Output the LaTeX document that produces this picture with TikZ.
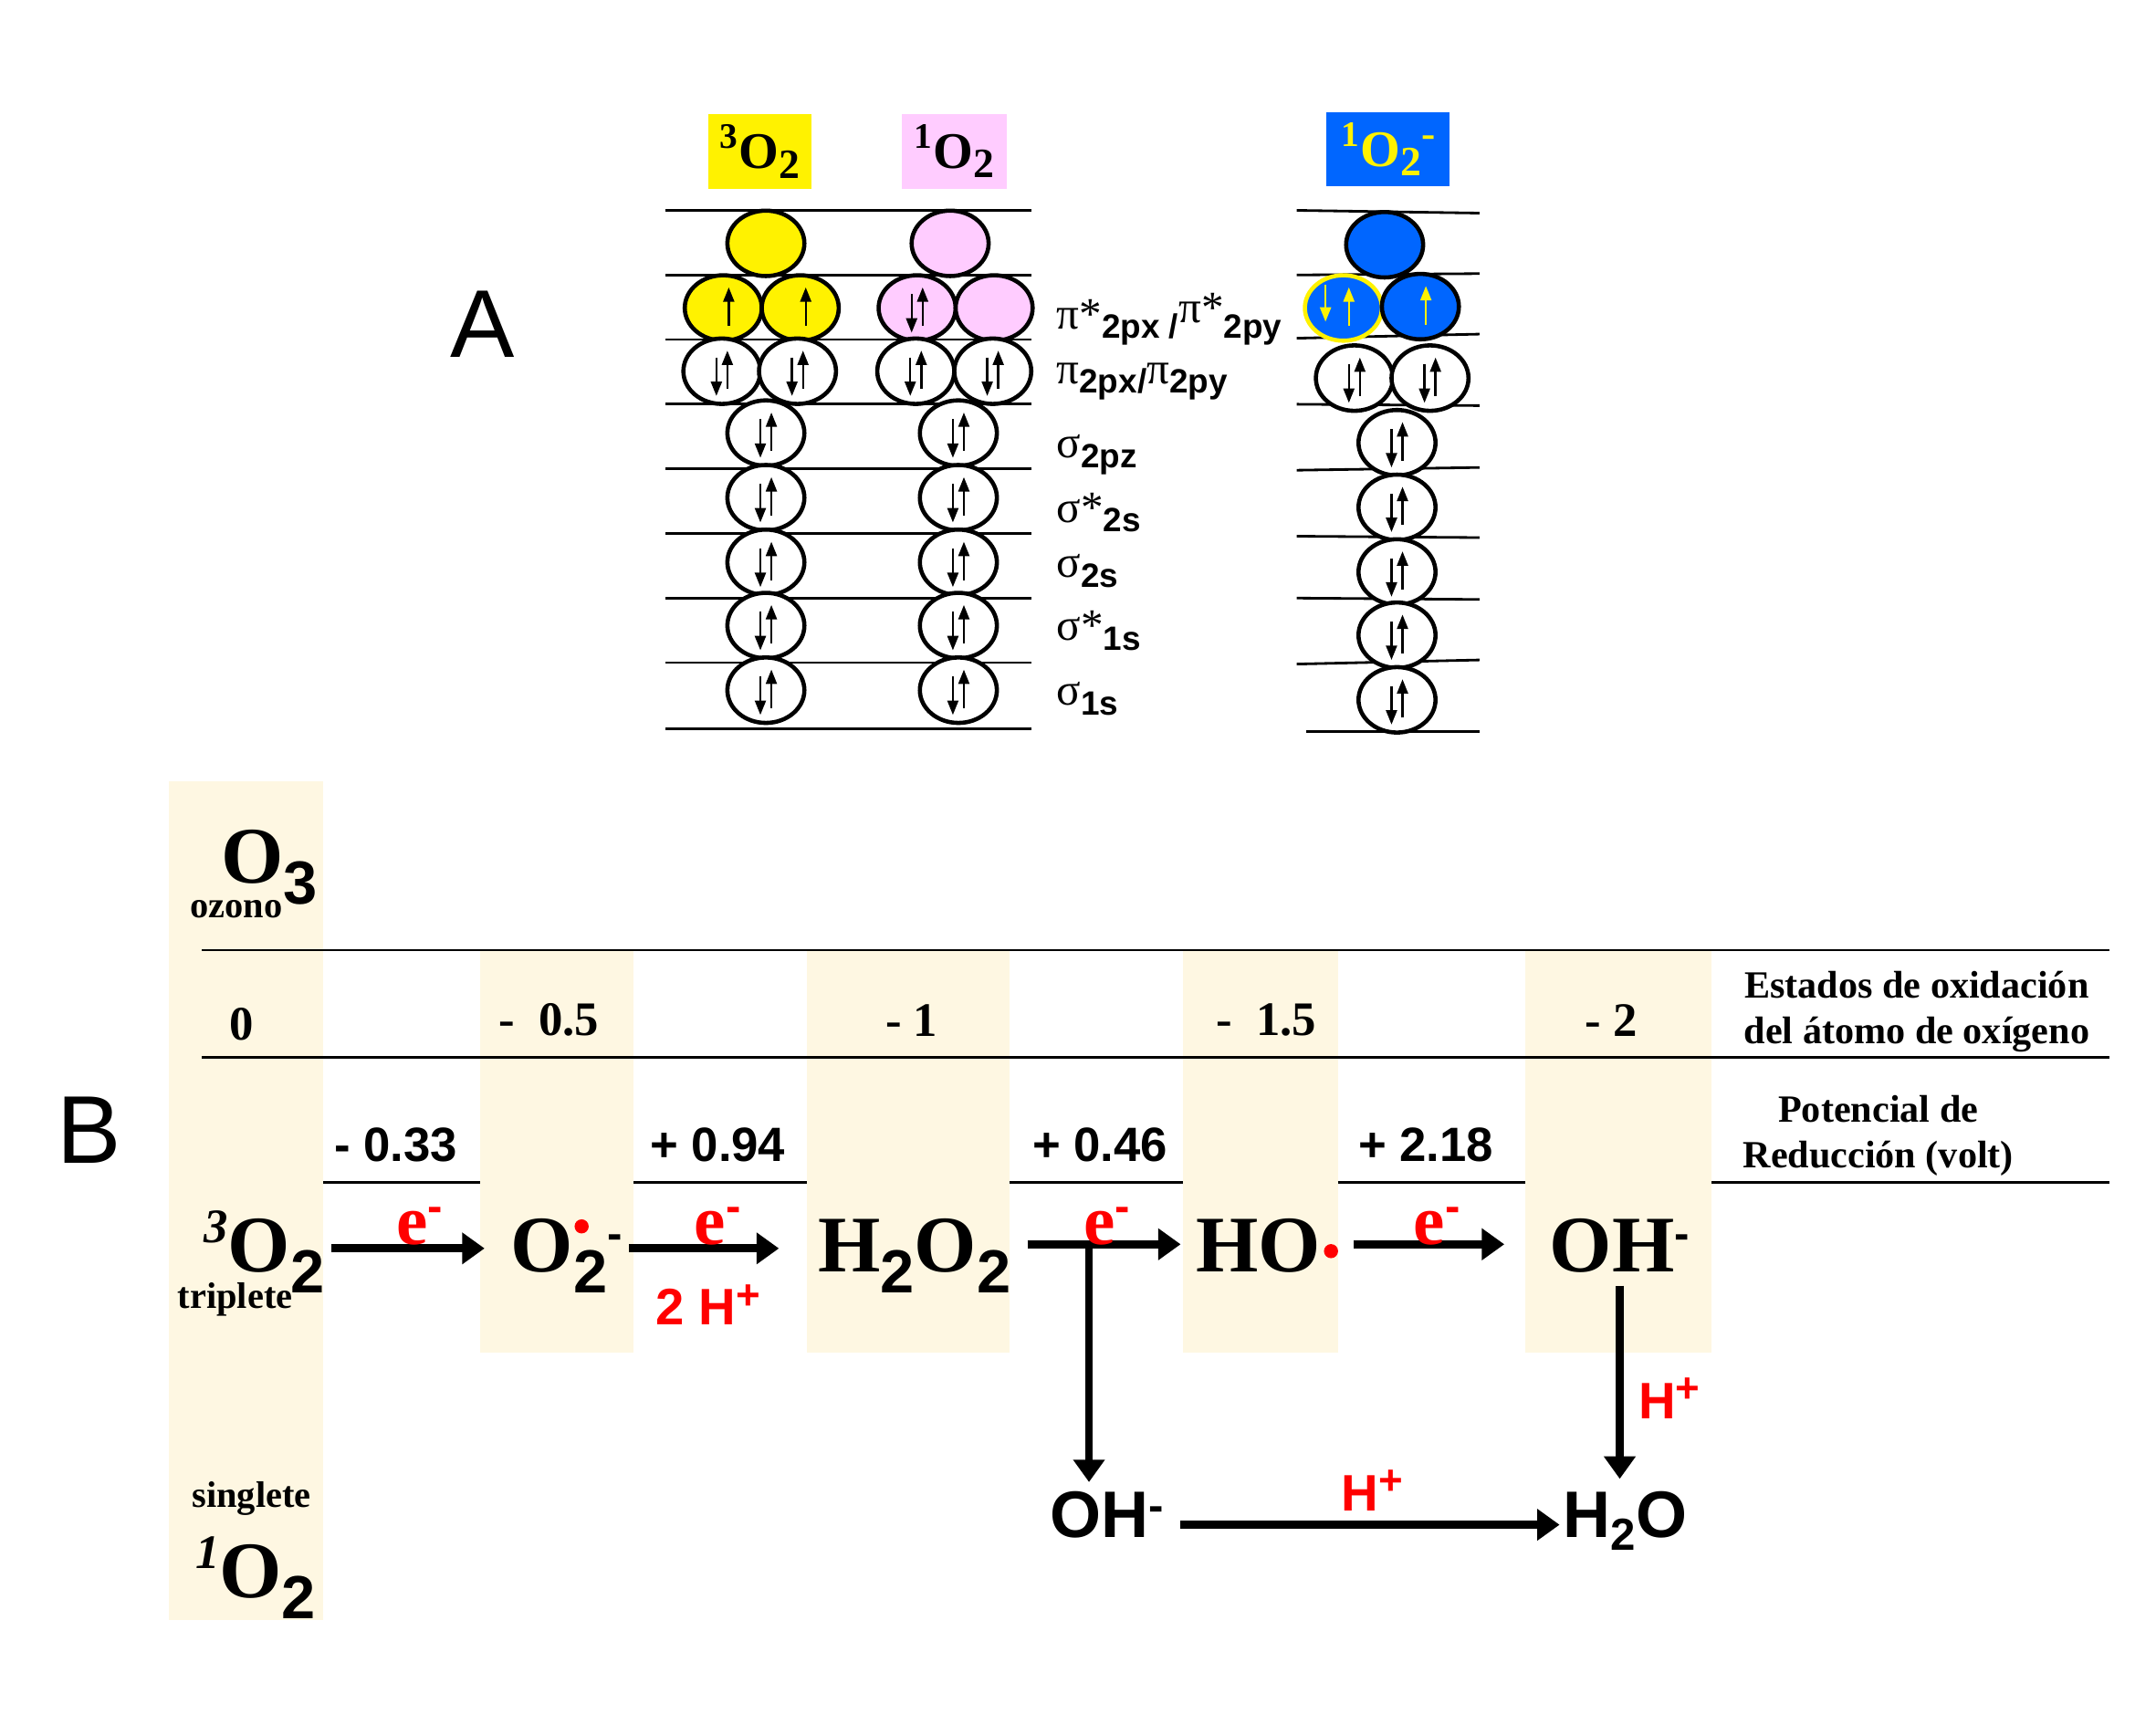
\documentclass[tikz,border=0pt]{standalone}
\usepackage{fontspec}
\setmainfont{Liberation Serif}
\newfontfamily\arial{Liberation Sans}
\usetikzlibrary{shapes.geometric}
\usetikzlibrary{positioning}
\usetikzlibrary{arrows.meta}
\definecolor{crema}{RGB}{254,247,226}
\definecolor{rosa}{RGB}{255,204,255}
\definecolor{azul}{RGB}{0,102,255}
\definecolor{rojo}{RGB}{255,0,0}
\tikzset{
    orbw/.style = {ellipse, line width=1.3pt, draw=black, fill=white, inner sep=0pt, minimum width=24pt, minimum height=20.4pt},
    orby/.style = {orbw, fill=yellow},
    orbr/.style = {orbw, fill=rosa},
    orbb/.style = {orbw, fill=azul},
    orbby/.style = {orbw, fill=azul, draw=yellow},
    spin/.style = {line width=0.7pt, -{Triangle[length=4.5pt,width=3.4pt]}},
    nivel/.style = {line width=0.8pt, black},
    regla/.style = {line width=0.8pt, black},
    banda/.style = {crema},
    cabeza/.style = {inner sep=0pt, font=\bfseries\fontsize{16}{16}\selectfont},
    etq/.style = {inner sep=0pt, anchor=base west, font=\fontsize{14}{14}\selectfont},
    flecha/.style = {line width=2.5pt, -{Triangle[length=7pt,width=9.5pt]}},
    especie/.style = {inner sep=0pt, text height=20pt, text depth=5.4pt, font=\bfseries\fontsize{25}{25}\selectfont},
    especieb/.style = {especie, text depth=2.8pt},
    especies/.style = {inner sep=0pt, text height=14pt, text depth=6.2pt, font=\arial\bfseries\fontsize{20.5}{20.5}\selectfont},
    estado/.style = {inner sep=0pt, font=\bfseries\fontsize{15}{15}\selectfont},
    texto/.style = {inner sep=0pt, align=center, font=\bfseries\fontsize{12}{14.2}\selectfont},
    peque/.style = {inner sep=0pt, font=\bfseries\fontsize{11.5}{11.5}\selectfont},
    pot/.style = {inner sep=0pt, font=\arial\bfseries\fontsize{15}{15}\selectfont},
    rojoe/.style = {inner sep=0pt, text=rojo, font=\bfseries\fontsize{22}{22}\selectfont},
    rojoh/.style = {inner sep=0pt, text=rojo, font=\arial\bfseries\fontsize{16}{16}\selectfont},
    punto/.style = {circle, fill=rojo, inner sep=0pt, minimum size=4.4pt},
    letra/.style = {inner sep=0pt, font=\arial\fontsize{30}{30}\selectfont}
}
\newcommand{\SB}[1]{\raisebox{-3pt}{\arial\bfseries\fontsize{10.5}{10.5}\selectfont #1}}
\newcommand{\BG}[1]{\raisebox{-6.5pt}{\arial\bfseries\fontsize{19}{19}\selectfont #1}}
\newcommand{\SP}[1]{\raisebox{7pt}{\arial\bfseries\fontsize{14}{14}\selectfont #1}}
\newcommand{\Ub}[2][black]{\draw[spin,#1] ([shift={(4,13)}]#2.center) -- ([shift={(4,-15)}]#2.center);}
\newcommand{\Db}[2][black]{\draw[spin,#1] ([shift={(-4,-10)}]#2.center) -- ([shift={(-4,18)}]#2.center);}
\newcommand{\UD}[2][black]{\Ub[#1]{#2}\Db[#1]{#2}}
\begin{document}
\begin{tikzpicture}[x=0.4286pt,y=-0.4286pt]
\useasboundingbox (0,0) rectangle (1568,1254.6);
% letras
\node[letra] (A) at (351,236) {A};
\node[letra] (B) at (65,822) {B};
% cabeceras
\node[cabeza,fill=yellow,minimum width=32.3pt,minimum height=23.3pt] (h1) at (552.5,110) {\textsuperscript{3}O\raisebox{-3pt}{\fontsize{13}{13}\selectfont 2}};
\node[cabeza,fill=rosa,minimum width=32.7pt,minimum height=23.3pt] (h2) at (694,110) {\textsuperscript{1}O\raisebox{-3pt}{\fontsize{13}{13}\selectfont 2}};
\node[cabeza,fill=azul,text=yellow,minimum width=38.3pt,minimum height=22.8pt] (h3) at (1009.5,108.5) {\textsuperscript{1}O\raisebox{-3pt}{\fontsize{13}{13}\selectfont 2}\raisebox{6pt}{\fontsize{13}{13}\selectfont -}};
% niveles
\draw[nivel] (484,153) -- (750,153);
\draw[nivel] (484,200) -- (750,200);
\draw[nivel] (484,247) -- (750,247);
\draw[nivel] (484,294) -- (750,294);
\draw[nivel] (484,341) -- (750,341);
\draw[nivel] (484,388) -- (750,388);
\draw[nivel] (484,435) -- (750,435);
\draw[nivel] (484,482) -- (750,482);
\draw[nivel] (484,530) -- (750,530);
\draw[nivel] (943,153) -- (1076,155);
\draw[nivel] (943,200) -- (1076,199);
\draw[nivel] (943,246) -- (1076,243);
\draw[nivel] (943,294) -- (1076,295);
\draw[nivel] (943,342) -- (1076,340);
\draw[nivel] (943,390) -- (1076,391);
\draw[nivel] (943,435) -- (1076,436);
\draw[nivel] (943,483) -- (1076,480);
\draw[nivel] (950,532) -- (1076,532);
% triplete
\node[orby] at (557,177) (a0) {};
\node[orby] at (526,224) (a1) {};
\node[orby] at (582,224) (a2) {};
\node[orbw] at (525,270) (a3) {};
\node[orbw] at (580,270) (a4) {};
\node[orbw] at (557,315) (a5) {};
\node[orbw] at (557,362) (a6) {};
\node[orbw] at (557,409) (a7) {};
\node[orbw] at (557,455) (a8) {};
\node[orbw] at (557,502) (a9) {};
\Ub{a1}
\Ub{a2}
\UD{a3}
\UD{a4}
\UD{a5}
\UD{a6}
\UD{a7}
\UD{a8}
\UD{a9}
% singlete
\node[orbr] at (691,177) (b0) {};
\node[orbr] at (667,224) (b1) {};
\node[orbr] at (723,224) (b2) {};
\node[orbw] at (666,270) (b3) {};
\node[orbw] at (722,270) (b4) {};
\node[orbw] at (697,315) (b5) {};
\node[orbw] at (697,362) (b6) {};
\node[orbw] at (697,409) (b7) {};
\node[orbw] at (697,455) (b8) {};
\node[orbw] at (697,502) (b9) {};
\UD{b1}
\UD{b3}
\UD{b4}
\UD{b5}
\UD{b6}
\UD{b7}
\UD{b8}
\UD{b9}
% anion
\node[orbb] at (1007,178) (c0) {};
\node[orbby] at (977,224) (c1) {};
\node[orbb] at (1033,223) (c2) {};
\node[orbw] at (985,275) (c3) {};
\node[orbw] at (1040,275) (c4) {};
\node[orbw] at (1016,322) (c5) {};
\node[orbw] at (1016,369) (c6) {};
\node[orbw] at (1016,416) (c7) {};
\node[orbw] at (1016,462) (c8) {};
\node[orbw] at (1016,509) (c9) {};
\draw[spin,yellow] ([shift={(-13,-17)}]c1.center) -- ([shift={(-13,10)}]c1.center);
\Ub[yellow]{c1}
\Ub[yellow]{c2}
\UD{c3}
\UD{c4}
\UD{c5}
\UD{c6}
\UD{c7}
\UD{c8}
\UD{c9}
% etiquetas
\node[etq] (e1) at (768,239) {π*\SB{2px /}\raisebox{2pt}{π*}\SB{2py}};
\node[etq] (e2) at (768,279) {π\SB{2px/}π\SB{2py}};
\node[etq] (e3) at (768,333) {σ\SB{2pz}};
\node[etq] (e4) at (768,380) {σ*\SB{2s}};
\node[etq] (e5) at (768,420) {σ\SB{2s}};
\node[etq] (e6) at (768,466) {σ*\SB{1s}};
\node[etq] (e7) at (768,513) {σ\SB{1s}};
% bandas
\fill[banda] (123,568) rectangle (235,1178);
\fill[banda] (349,692) rectangle (461,984);
\fill[banda] (587,692) rectangle (734,984);
\fill[banda] (860,692) rectangle (973,984);
\fill[banda] (1109,692) rectangle (1245,984);
% reglas
\draw[regla] (147,691) -- (1534,691);
\draw[regla] (147,769) -- (1534,769);
\draw[regla] (235,860) -- (349,860);
\draw[regla] (461,860) -- (587,860);
\draw[regla] (734,860) -- (860,860);
\draw[regla] (973,860) -- (1109,860);
\draw[regla] (1245,860) -- (1534,860);
% estados
\node[estado] (s0) at (176,745) {0};
\node[estado] (s1) at (399,742) {-~~0.5};
\node[estado] (s2) at (663,742) {- 1};
\node[estado] (s3) at (921,742) {-~~1.5};
\node[estado] (s4) at (1172,742) {- 2};
\node[texto] (t1) at (1394,736) {Estados de oxidación\\del átomo de oxígeno};
\node[texto] (t2) at (1366,826) {Potencial de\\Reducción (volt)};
% potenciales
\node[pot] (p1) at (288,833) {- 0.33};
\node[pot] (p2) at (522,833) {+ 0.94};
\node[pot] (p3) at (800,833) {+ 0.46};
\node[pot] (p4) at (1037,833) {+ 2.18};
% especies
\node[especie] (ozo) at (196,625) {O\BG{3}};
\node[peque] (ozl) at (172,661) {ozono};
\node[especie] (tri) at (192,908) {\raisebox{9pt}{\fontsize{15}{15}\selectfont\itshape 3}O\BG{2}};
\node[peque] (trl) at (171,945) {triplete};
\node[especie] (sup) at (412,908) {O\BG{2}\SP{-}};
\node[especie] (per) at (665,908) {H\BG{2}O\BG{2}};
\node[especieb] (hid) at (915,905) {HO};
\node[especieb] (oxh) at (1178,905) {OH\SP{-}};
\node[peque] (sil) at (183,1090) {singlete};
\node[especie] (sin) at (186,1145) {\raisebox{9pt}{\fontsize{15}{15}\selectfont\itshape 1}O\BG{2}};
\node[especies] (ohb) at (805,1109) {OH\raisebox{5pt}{\fontsize{14}{14}\selectfont -}};
\node[especies] (agu) at (1182,1109) {H\raisebox{-4pt}{\fontsize{14}{14}\selectfont 2}O};
\node[punto] (d1) at (423,892) {};
\node[punto] (d2) at (968,910) {};
% flechas
\draw[flecha,shorten <=2pt,shorten >=8pt] (tri.east) -- (sup.west);
\draw[flecha,shorten <=2pt,shorten >=12pt] (sup.east) -- (per.west);
\draw[flecha,shorten <=5pt,shorten >=4.5pt] (per.east) ++(0,-3) coordinate (arr) -- (hid.west);
\coordinate (split) at (792,905);
\draw[flecha,shorten >=3pt] (split) -- (split |- ohb.north);
\draw[flecha,shorten <=7pt,shorten >=14pt] (d2) ++(0,-5) coordinate (arr2) -- (oxh.west);
\draw[flecha,shorten <=1.3pt,shorten >=4pt] (oxh.south) -- (oxh.south |- agu.north);
\draw[flecha,shorten <=5pt,shorten >=1pt] (ohb.east) -- (agu.west);
% rojos
\node[rojoe] (r1) at (305,892) {e\SP{-}};
\node[rojoe] (r2) at (522,892) {e\SP{-}};
\node[rojoe] (r3) at (805,892) {e\SP{-}};
\node[rojoe] (r4) at (1045,892) {e\SP{-}};
\node[rojoh] (r5) at (515,949) {2 H\raisebox{5pt}{\fontsize{13}{13}\selectfont +}};
\node[rojoh] (r6) at (1214,1017) {H\raisebox{5pt}{\fontsize{13}{13}\selectfont +}};
\node[rojoh] (r7) at (998,1084) {H\raisebox{5pt}{\fontsize{13}{13}\selectfont +}};
\end{tikzpicture}
\end{document}
